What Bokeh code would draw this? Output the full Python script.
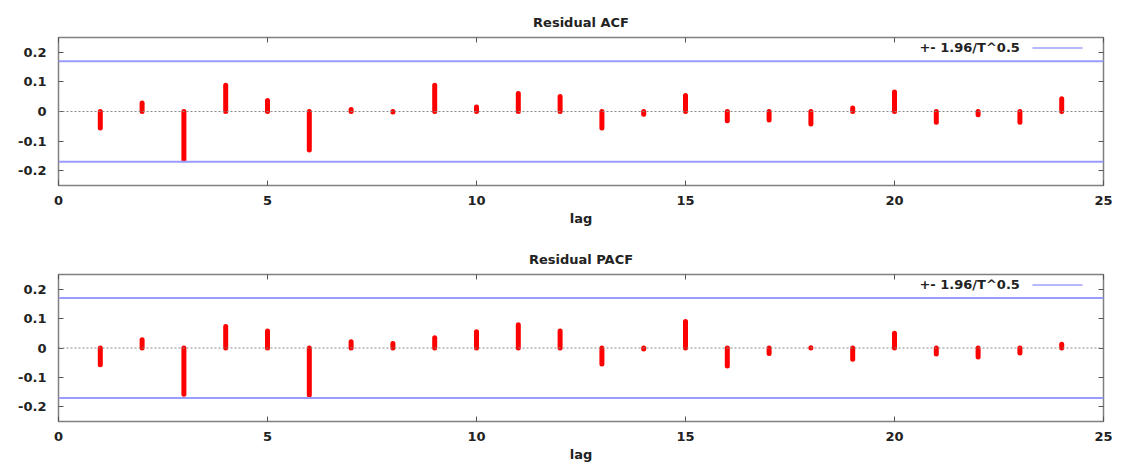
from bokeh.plotting import figure
from bokeh.layouts import column
from bokeh.models import (LinearAxis, FixedTicker, Range1d, Span, Label,
                          CustomJSTickFormatter)
from bokeh.embed import file_html
from bokeh.resources import INLINE

# ---- data ----
lags = list(range(1, 25))
acf = [-0.056, 0.029, -0.163, 0.089, 0.037, -0.130, 0.007, -0.002,
       0.089, 0.015, 0.061, 0.051, -0.056, -0.009, 0.054, -0.031,
       -0.029, -0.042, 0.012, 0.066, -0.036, -0.011, -0.036, 0.043]
pacf = [-0.057, 0.028, -0.157, 0.073, 0.058, -0.160, 0.021, 0.015,
        0.035, 0.055, 0.079, 0.058, -0.054, -0.003, 0.090, -0.061,
        -0.019, 0.001, -0.038, 0.050, -0.020, -0.031, -0.017, 0.013]
band = 0.17
x_ticks = [0, 5, 10, 15, 20, 25]
y_ticks = [-0.2, -0.1, 0, 0.1, 0.2]
titles = ["Residual ACF", "Residual PACF"]
legend_label = "+- 1.96/T^0.5"
x_label = "lag"

FONT = "DejaVu Sans"
TXT = "#222222"
FS = "13px"


def style_axis(ax, ticks, show_labels=True):
    ax.ticker = FixedTicker(ticks=ticks)
    ax.major_tick_in = 5
    ax.major_tick_out = 0
    ax.minor_tick_line_color = None
    ax.axis_line_color = None
    ax.major_tick_line_color = "#555555"
    ax.major_label_text_font = FONT
    ax.major_label_text_font_size = FS
    ax.major_label_text_font_style = "bold"
    ax.major_label_text_color = TXT
    if not show_labels:
        ax.formatter = CustomJSTickFormatter(code="return '';")
        ax.major_label_standoff = 0


def make_panel(title, values, height, border_top, border_bottom, title_standoff):
    p = figure(width=1121, height=height, output_backend="svg",
               toolbar_location=None,
               x_range=Range1d(0, 25), y_range=Range1d(-0.25, 0.25),
               min_border_left=58, min_border_right=18,
               min_border_top=border_top, min_border_bottom=border_bottom)
    p.title.text = title
    p.title.align = "center"
    p.title.text_font = FONT
    p.title.text_font_size = FS
    p.title.text_font_style = "bold"
    p.title.text_color = TXT
    p.title.standoff = title_standoff
    p.xgrid.visible = False
    p.ygrid.visible = False
    p.outline_line_color = "#808080"
    p.outline_line_width = 1.5
    p.background_fill_color = "white"
    p.border_fill_color = "white"

    style_axis(p.xaxis[0], x_ticks)
    p.xaxis[0].major_label_standoff = 10
    p.xaxis[0].axis_label = x_label
    p.xaxis[0].axis_label_text_font = FONT
    p.xaxis[0].axis_label_text_font_size = FS
    p.xaxis[0].axis_label_text_font_style = "bold"
    p.xaxis[0].axis_label_text_color = TXT
    p.xaxis[0].axis_label_standoff = 3

    style_axis(p.yaxis[0], y_ticks)
    p.yaxis[0].formatter = CustomJSTickFormatter(
        code="return tick == 0 ? '0' : tick.toFixed(1);")
    p.yaxis[0].major_label_standoff = 12

    top = LinearAxis()
    style_axis(top, x_ticks, show_labels=False)
    p.add_layout(top, "above")
    right = LinearAxis()
    style_axis(right, y_ticks, show_labels=False)
    p.add_layout(right, "right")

    # zero line and confidence band
    p.add_layout(Span(location=0, dimension="width", line_color="#888888",
                      line_dash="2 2", line_width=1))
    for b in (band, -band):
        p.add_layout(Span(location=b, dimension="width",
                          line_color="#9a9aff", line_width=2))

    # impulses
    p.segment(x0=lags, y0=[0] * len(lags), x1=lags, y1=values,
              line_color="#ff0000", line_width=5, line_cap="round")

    # legend (text then sample, gnuplot style)
    p.add_layout(Label(x=23.0, y=0.2146, text=legend_label,
                       text_align="right", text_baseline="middle",
                       text_font=FONT, text_font_size=FS,
                       text_font_style="bold", text_color=TXT))
    p.segment(x0=[23.3], y0=[0.2146], x1=[24.5], y1=[0.2146],
              line_color="#b8b8ff", line_width=2)
    return p


p1 = make_panel(titles[0], acf, 232, 37, 47, 15)
p2 = make_panel(titles[1], pacf, 232, 42, 42, 16)
layout = column(p1, p2, spacing=0)

open("out.html", "w").write(file_html(layout, INLINE))
